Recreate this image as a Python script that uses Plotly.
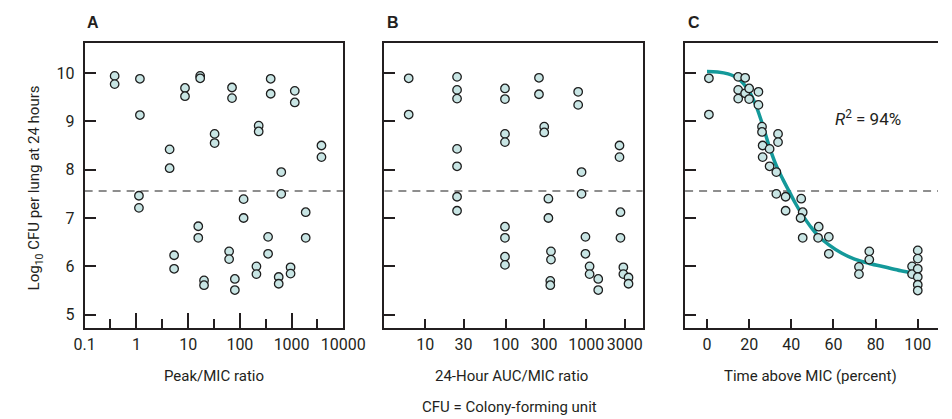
import plotly.graph_objects as go

# ---------------- data ----------------
A_x = [0.38, 0.38, 1.17, 1.17, 1.12, 1.12, 4.39, 4.39, 5.36, 5.36, 8.7, 8.7,
       17.1, 17.1, 15.7, 15.7, 20.3, 20.3, 32.5, 32.5, 62, 62, 70.5, 70.5,
       80, 80, 118, 118, 209, 209, 231, 231, 351, 351, 394, 394, 563, 563,
       631, 631, 955, 955, 1151, 1151, 1871, 1871, 3776, 3776]
A_y = [9.94, 9.77, 9.88, 9.13, 7.46, 7.21, 8.42, 8.03, 6.23, 5.95, 9.69, 9.52,
       9.94, 9.89, 6.83, 6.59, 5.71, 5.61, 8.74, 8.55, 6.31, 6.15, 9.70, 9.48,
       5.74, 5.51, 7.39, 7.00, 6.00, 5.84, 8.91, 8.79, 6.61, 6.26, 9.88, 9.57,
       5.78, 5.64, 7.95, 7.50, 5.98, 5.85, 9.63, 9.39, 7.12, 6.59, 8.50, 8.26]

B_x = [6.25, 6.25, 24.9, 24.9, 24.9, 24.9, 24.9, 24.9, 24.9,
       98, 98, 98, 98, 98, 98, 98, 98, 259, 259, 301, 301, 339, 339,
       365, 365, 358, 358, 794, 794, 875, 875, 978, 978, 1101, 1101,
       1410, 1410, 2588, 2588, 2661, 2661, 2891, 2891, 3350, 3350]
B_y = [9.89, 9.14, 9.92, 9.65, 9.47, 8.43, 8.07, 7.44, 7.15,
       9.68, 9.46, 8.74, 8.57, 6.82, 6.59, 6.20, 6.03, 9.90, 9.56, 8.89, 8.77,
       7.40, 7.00, 6.31, 6.14, 5.70, 5.61, 9.61, 9.34, 7.95, 7.50, 6.61, 6.26,
       6.00, 5.84, 5.74, 5.51, 8.50, 8.26, 7.12, 6.59, 5.98, 5.84, 5.77, 5.64]

C_x = [0.9, 0.9, 14.8, 18.1, 14.8, 14.8, 18.1, 20, 20, 24.4, 24.4, 26.1, 26.1,
       26.4, 26.4, 29.7, 29.7, 33.7, 33.7, 32.9, 32.9, 37.3, 37.3, 44.7, 45.4,
       44.4, 45.4, 53, 52.7, 57.8, 57.8, 72.1, 72.1, 77, 77, 97.3, 97.3,
       100, 100, 100, 100, 100, 100]
C_y = [9.89, 9.14, 9.92, 9.90, 9.65, 9.47, 9.58, 9.68, 9.46, 9.61, 9.34, 8.89, 8.78,
       8.50, 8.26, 8.43, 8.07, 8.74, 8.57, 7.95, 7.50, 7.44, 7.15, 7.40, 7.12,
       7.00, 6.59, 6.82, 6.59, 6.61, 6.26, 5.99, 5.84, 6.31, 6.14, 6.00, 5.84,
       6.33, 6.16, 5.95, 5.78, 5.62, 5.50]

fit_x = [0, 5, 10, 15, 20, 23, 26, 30, 33, 36, 39, 42, 45, 49, 53, 58, 64, 70, 77, 85, 92, 98]
fit_y = [10.03, 10.02, 9.98, 9.88, 9.62, 9.35, 8.98, 8.42, 8.07, 7.80, 7.55, 7.30,
         7.08, 6.83, 6.62, 6.44, 6.27, 6.15, 6.06, 5.98, 5.91, 5.86]

threshold = 7.56

A_ticks = [0.1, 1, 10, 100, 1000, 10000]
A_tick_text = ["0.1", "1", "10", "100", "1000", "10000"]
A_minor = [0.316, 3.16, 31.6, 316, 3162]
B_ticks = [10, 30, 100, 300, 1000, 3000]
B_tick_text = ["10", "30", "100", "300", "1000", "3000"]
C_ticks = [0, 20, 40, 60, 80, 100]
y_ticks = [5, 6, 7, 8, 9, 10]

panel_letters = ["A", "B", "C"]
x_titles = ["Peak/MIC ratio", "24-Hour AUC/MIC ratio", "Time above MIC (percent)"]
y_title = "Log<sub>10</sub> CFU per lung at 24 hours"
r2_text = "<i>R</i><sup>2</sup> = 94%"
footnote = "CFU = Colony-forming unit"

# ---------------- style ----------------
W, H = 952, 419
FONT = "Roboto, Liberation Sans, sans-serif"
TXT = "#231f20"
FRAME = "#231f20"
FILL = "#c8e5e4"
TEAL = "#14999a"
FS_TICK = 16
FS_TITLE = 15

dom_top = 1 - 35 / H
dom_bot = 1 - 320 / H
x_doms = [(68 / W, 336 / W), (378.5 / W, 646 / W), (690 / W, 1.0)]

marker = dict(size=8.5, color=FILL, line=dict(color="#1e1e1e", width=1.3))

fig = go.Figure()
fig.add_trace(go.Scatter(x=A_x, y=A_y, mode="markers", marker=marker,
                         xaxis="x", yaxis="y", showlegend=False))
fig.add_trace(go.Scatter(x=B_x, y=B_y, mode="markers", marker=marker,
                         xaxis="x2", yaxis="y2", showlegend=False))
fig.add_trace(go.Scatter(x=fit_x, y=fit_y, mode="lines",
                         line=dict(color=TEAL, width=3.5, shape="spline", smoothing=1.0),
                         xaxis="x3", yaxis="y3", showlegend=False))
fig.add_trace(go.Scatter(x=C_x, y=C_y, mode="markers", marker=marker,
                         xaxis="x3", yaxis="y3", showlegend=False))

common_x = dict(showgrid=False, zeroline=False, showline=True, linecolor=FRAME,
                linewidth=2, mirror=True, ticks="inside", tickcolor=FRAME,
                tickwidth=2, tickangle=0, ticklabelstandoff=1,
                tickfont=dict(family=FONT, size=FS_TICK, color=TXT))
yr = [4.725, 10.62]
common_y = dict(showgrid=False, zeroline=False, showline=True, linecolor=FRAME,
                linewidth=2, ticks="inside", tickcolor=FRAME, tickwidth=2,
                ticklen=11, range=yr, tickvals=y_ticks,
                domain=[dom_bot, dom_top],
                tickfont=dict(family=FONT, size=FS_TICK, color=TXT))

fig.update_layout(
    width=W, height=H, margin=dict(l=0, r=0, t=0, b=0),
    paper_bgcolor="white", plot_bgcolor="white",
    font=dict(family=FONT, color=TXT),
    xaxis=dict(common_x, anchor="y", type="log", range=[-1, 4], domain=x_doms[0],
               tickvals=A_ticks, ticktext=A_tick_text, ticklen=15,
               minor=dict(tickvals=A_minor, ticks="inside", ticklen=9,
                          tickcolor=FRAME, tickwidth=2)),
    xaxis2=dict(common_x, anchor="y2", type="log", range=[0.494, 3.70], domain=x_doms[1],
                tickvals=B_ticks, ticktext=B_tick_text, ticklen=9),
    xaxis3=dict(common_x, anchor="y3", range=[-10.4, 109.6], domain=x_doms[2],
                tickvals=C_ticks, ticklen=9),
    yaxis=dict(common_y, anchor="x", mirror=True, ticklabelstandoff=5),
    yaxis2=dict(common_y, anchor="x2", mirror=True, showticklabels=False),
    yaxis3=dict(common_y, anchor="x3", mirror=False, showticklabels=False),
)

# dashed threshold lines
for xr, yref in [("x domain", "y"), ("x2 domain", "y2"), ("x3 domain", "y3")]:
    fig.add_shape(type="line", xref=xr, yref=yref, x0=0, x1=1,
                  y0=threshold, y1=threshold,
                  line=dict(color="#6a6a6a", width=1.6, dash="8px,6px"), layer="below")

# panel letters
for letter, (d0, _) in zip(panel_letters, x_doms):
    fig.add_annotation(text="<b>%s</b>" % letter, xref="paper", yref="paper",
                       x=d0 + 9 / W, y=1 - 15 / H, showarrow=False,
                       font=dict(family="Liberation Sans, Arial, sans-serif", size=16, color=TXT),
                       xanchor="center", yanchor="middle")

# x titles
x_centers = [202, 510, 820]
for t, cx in zip(x_titles, x_centers):
    fig.add_annotation(text=t, xref="paper", yref="paper", x=cx / W, y=1 - 368 / H,
                       showarrow=False, font=dict(family=FONT, size=FS_TITLE, color=TXT),
                       xanchor="center", yanchor="middle")

# y title
fig.add_annotation(text=y_title, xref="paper", yref="paper", x=17 / W, y=1 - 180 / H,
                   textangle=-90, showarrow=False,
                   font=dict(family=FONT, size=FS_TITLE, color=TXT),
                   xanchor="center", yanchor="middle")

# R^2
fig.add_annotation(text=r2_text, xref="paper", yref="paper", x=879 / W, y=1 - 110 / H,
                   showarrow=False, font=dict(family=FONT, size=17, color=TXT),
                   xanchor="center", yanchor="middle")

# footnote
fig.add_annotation(text=footnote, xref="paper", yref="paper", x=508 / W, y=1 - 399 / H,
                   showarrow=False, font=dict(family=FONT, size=FS_TITLE, color=TXT),
                   xanchor="center", yanchor="middle")

fig.write_html("out.html")
